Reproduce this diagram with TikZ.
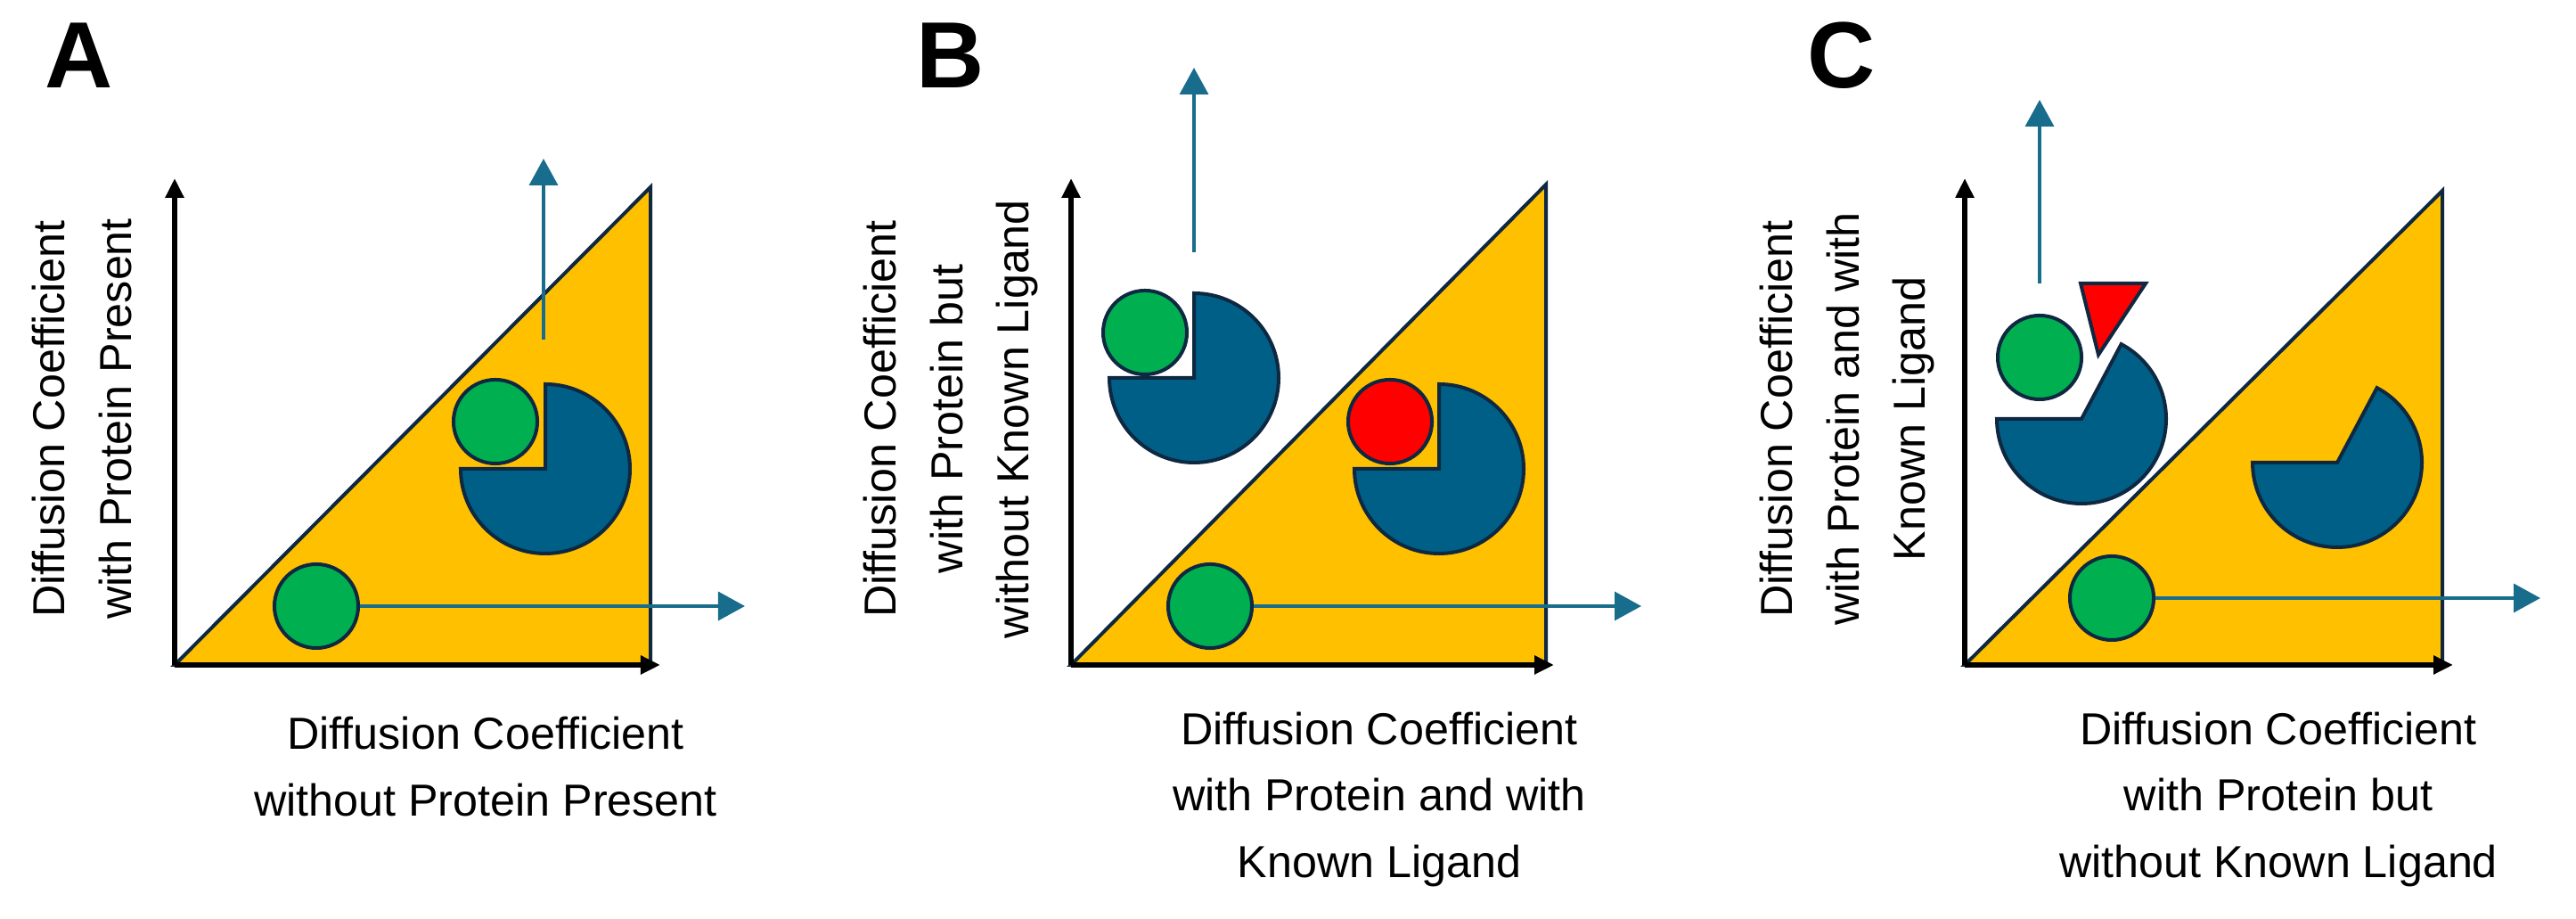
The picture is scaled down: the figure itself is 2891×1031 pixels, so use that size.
\documentclass[tikz,border=0pt]{standalone}
\usepackage{fontspec}
\setmainfont{Liberation Sans}
\usetikzlibrary{arrows.meta}
\definecolor{plotyellow}{HTML}{FFC000}
\definecolor{protblue}{HTML}{005F86}
\definecolor{ligandgreen}{HTML}{00B050}
\definecolor{flowteal}{HTML}{186C8C}
\definecolor{edgenavy}{HTML}{0E2841}
\tikzstyle{region}=[fill=plotyellow, draw=edgenavy, line width=0.4mm]
\tikzstyle{axis}=[draw, -{Triangle[length=0.22cm,width=0.2cm]}, line width=0.55mm]
\tikzstyle{move}=[draw=flowteal, -{Triangle[length=0.3cm,width=0.32cm]}, line width=0.35mm, color=flowteal]
\tikzstyle{ligand}=[circle, draw=edgenavy, line width=0.4mm, minimum size=0.94cm, inner sep=0pt]
\tikzstyle{protein}=[fill=protblue, draw=edgenavy, line width=0.4mm]
\tikzstyle{caption}=[font=\fontsize{14.3pt}{21.3pt}\selectfont, align=center]
\tikzstyle{panel}=[font=\fontsize{30pt}{30pt}\selectfont\bfseries]

\begin{document}
\begin{tikzpicture}[x=0.01cm, y=0.01cm]
	\useasboundingbox (0,0) rectangle (2891,1031);
	% plot areas
	\foreach \name/\ox/\tx/\ty/\xe in {A/196/730/821/741, B/1202/1735/824/1744, C/2205/2741/817/2753} {
		\coordinate (\name0) at (\ox,285);
		\coordinate (\name top) at (\tx,\ty);
		\path[region] (\name0) -- (\name top) -- (\tx,285) -- cycle;
		\path[axis] (\name0) -- (\xe,285);
		\path[axis] (\name0) -- (\ox,831);
	}
	\foreach \name/\px in {A/89, B/1067, C/2067}
		\node[panel] (label\name) at (\px,969) {\name};
	% proteins (quarter cut)
	\foreach \name/\px/\py in {protA/612/505, protB/1615/505, protBout/1340/607}
		\path[protein] (\px,\py) coordinate (\name) -- +(90:95) arc[start angle=90, end angle=-180, radius=95] -- cycle;
	% proteins (open pocket)
	\foreach \name/\px/\py in {protC/2623/512, protCout/2336/561}
		\path[protein] (\px,\py) coordinate (\name) -- +(180:95) arc[start angle=180, end angle=422, radius=95] -- cycle;
	% ligands
	\foreach \name/\px/\py in {ligA/355/351, ligAbound/556/558, ligB/1358/351, ligBout/1285/658,
				ligC/2370/360, ligCout/2289/630}
		\node[ligand, fill=ligandgreen] (\name) at (\px,\py) {};
	\node[ligand, fill=red] (known) at (1560,558) {};
	\path[fill=red, draw=edgenavy, line width=0.4mm] (2335,713) coordinate (knownC) -- (2408,713) -- (2355,633) -- cycle;
	% movement arrows
	\foreach \src/\x/\y in {ligA/836/351, ligB/1842/351, ligC/2851/360}
		\path[move] (\src) -- (\x,\y);
	\foreach \name/\x/\ya/\yb in {A/610/650/853, B/1340/748/955, C/2289/713/919} {
		\coordinate (up\name) at (\x,\ya);
		\coordinate (end\name) at (\x,\yb);
		\path[move] (up\name) -- (end\name);
	}
	% axis titles
	\node[caption] (xA) at (545,171) {Diffusion Coefficient\\without Protein Present};
	\node[caption, rotate=90] (yA) at (92,561) {Diffusion Coefficient\\with Protein Present};
	\node[caption] (xB) at (1548,134) {Diffusion Coefficient\\with Protein and with\\Known Ligand};
	\node[caption, rotate=90] (yB) at (1067,561) {Diffusion Coefficient\\with Protein but\\without Known Ligand};
	\node[caption] (xC) at (2557,134) {Diffusion Coefficient\\with Protein but\\without Known Ligand};
	\node[caption, rotate=90] (yC) at (2073,561) {Diffusion Coefficient\\with Protein and with\\Known Ligand};
\end{tikzpicture}
\end{document}
